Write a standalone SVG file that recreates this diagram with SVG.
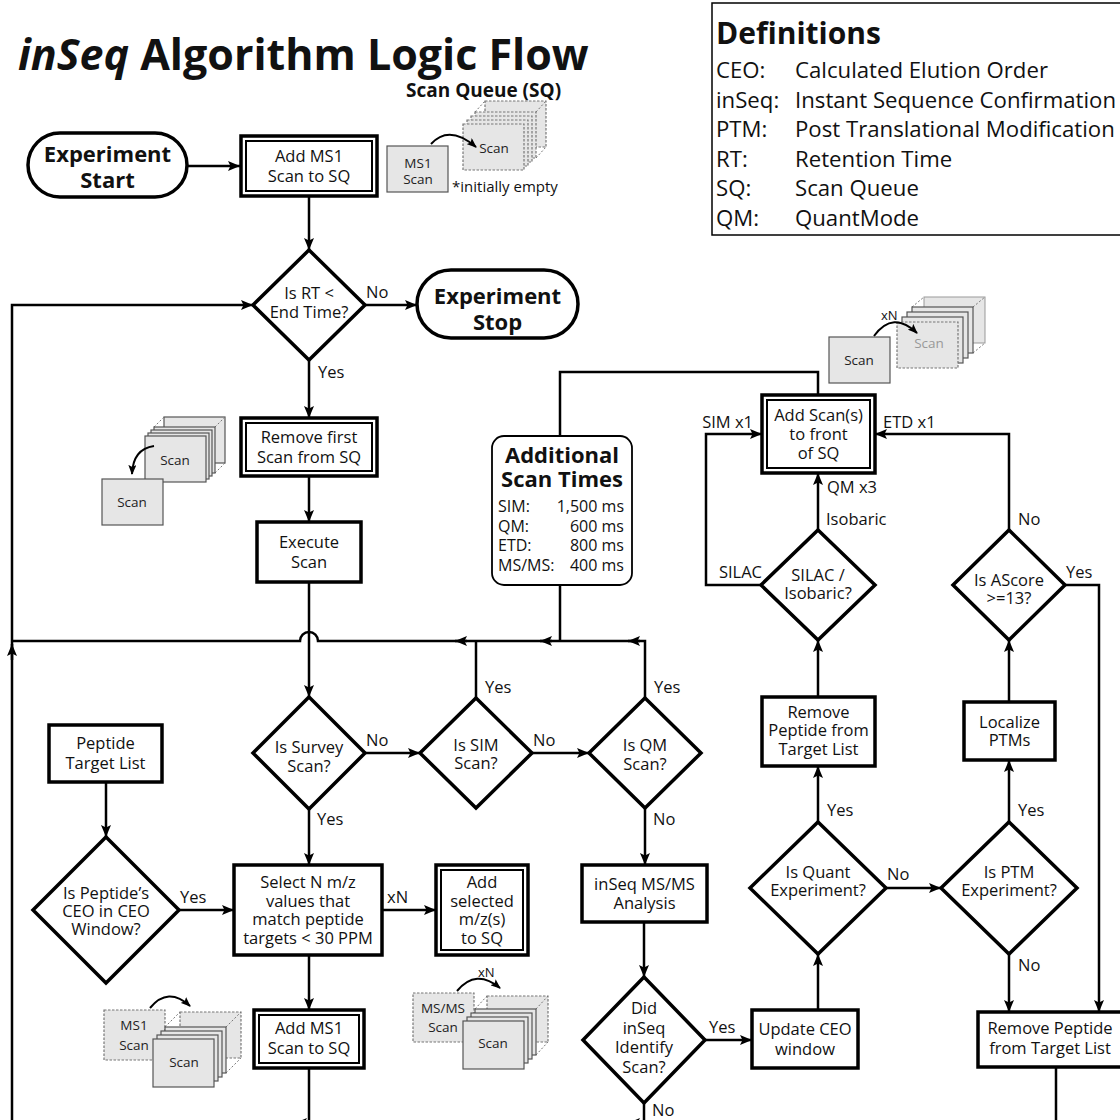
<svg xmlns="http://www.w3.org/2000/svg" width="1120" height="1120" viewBox="0 0 1120 1120">
<defs>
<style>
text{font-family:"Open Sans","Liberation Sans",sans-serif;fill:#111}
.t{font-size:16.5px;text-anchor:middle}
.l{font-size:16.5px}
.e{font-size:16.5px;text-anchor:end}
.bt{font-size:22px;font-weight:700;text-anchor:middle}
.node{fill:#fff;stroke:#000;stroke-width:3.5}
.inner{fill:none;stroke:#000;stroke-width:2}
.c{fill:none;stroke:#000;stroke-width:2.5}
.ic{fill:#e6e6e6;stroke:#555;stroke-width:1.2}
.icd{fill:#e6e6e6;stroke:#777;stroke-width:1.2;stroke-dasharray:2.5 1.5}
.dot{stroke:#777;stroke-width:1;stroke-dasharray:2 2;fill:none}
.it{font-size:13.5px;text-anchor:middle;fill:#222}
.arc{fill:none;stroke:#000;stroke-width:2}
.def{font-size:22.2px}
.st{font-size:16px}
.se{font-size:16px;text-anchor:end}
</style>
<marker id="ah" viewBox="0 0 12 10" refX="12" refY="5" markerWidth="12" markerHeight="10" markerUnits="userSpaceOnUse" orient="auto"><path d="M0,0 L12,5 L0,10 L2.5,5 z" fill="#000"/></marker>
<marker id="sa" viewBox="0 0 10 8" refX="9" refY="4" markerWidth="10" markerHeight="8" markerUnits="userSpaceOnUse" orient="auto"><path d="M0,0 L10,4 L0,8 L2,4 z" fill="#000"/></marker>
</defs>
<rect width="1120" height="1120" fill="#fff"/>

<text x="18" y="70" font-size="43" font-weight="700"><tspan font-style="italic">inSeq</tspan> Algorithm Logic Flow</text>

<g id="definitions">
<rect x="712" y="3" width="420" height="232" fill="#fff" stroke="#000" stroke-width="1.5"/>
<text x="716" y="44" font-size="30" font-weight="700">Definitions</text>
<text class="def" x="716" y="78">CEO:</text><text class="def" x="795" y="78">Calculated Elution Order</text>
<text class="def" x="716" y="107.5">inSeq:</text><text class="def" x="795" y="107.5">Instant Sequence Confirmation</text>
<text class="def" x="716" y="137">PTM:</text><text class="def" x="795" y="137">Post Translational Modification</text>
<text class="def" x="716" y="166.5">RT:</text><text class="def" x="795" y="166.5">Retention Time</text>
<text class="def" x="716" y="196">SQ:</text><text class="def" x="795" y="196">Scan Queue</text>
<text class="def" x="716" y="225.5">QM:</text><text class="def" x="795" y="225.5">QuantMode</text>
</g>

<g id="connectors">
<path class="c" d="M187,166 H240" marker-end="url(#ah)"/>
<path class="c" d="M309,196 V250" marker-end="url(#ah)"/>
<path class="c" d="M365,305 H417" marker-end="url(#ah)"/>
<path class="c" d="M309,360 V418" marker-end="url(#ah)"/>
<path class="c" d="M309,476 V522" marker-end="url(#ah)"/>
<path class="c" d="M309,582 V697" marker-end="url(#ah)"/>
<path class="c" d="M645,698 V641 H318 A9,9 0 0 0 300,641 H12"/>
<path class="c" d="M640,641 H628" marker-end="url(#ah)"/>
<path class="c" d="M552,641 H540" marker-end="url(#ah)"/>
<path class="c" d="M467,641 H455" marker-end="url(#ah)"/>
<path class="c" d="M12,1123 V305 H253" marker-end="url(#ah)"/>
<path class="c" d="M12,660 V644" marker-end="url(#ah)"/>
<path class="c" d="M476,698 V641"/>
<path class="c" d="M818,395 V372 H560 V436 M560,585 V641"/>
<path class="c" d="M364,753 H420" marker-end="url(#ah)"/>
<path class="c" d="M532,753 H589" marker-end="url(#ah)"/>
<path class="c" d="M309,809 V865" marker-end="url(#ah)"/>
<path class="c" d="M645,808 V865" marker-end="url(#ah)"/>
<path class="c" d="M106,782 V837" marker-end="url(#ah)"/>
<path class="c" d="M179,910 H234" marker-end="url(#ah)"/>
<path class="c" d="M382,910 H436" marker-end="url(#ah)"/>
<path class="c" d="M309,955 V1010" marker-end="url(#ah)"/>
<path class="c" d="M309,1068 V1123"/>
<path class="c" d="M644,922 V977" marker-end="url(#ah)"/>
<path class="c" d="M705,1040 H752" marker-end="url(#ah)"/>
<path class="c" d="M644,1103 V1123"/>
<path class="c" d="M818,1010 V954" marker-end="url(#ah)"/>
<path class="c" d="M818,822 V766" marker-end="url(#ah)"/>
<path class="c" d="M818,697 V640" marker-end="url(#ah)"/>
<path class="c" d="M818,530 V473" marker-end="url(#ah)"/>
<path class="c" d="M761,585 H706 V434 H762" marker-end="url(#ah)"/>
<path class="c" d="M886,888 H941" marker-end="url(#ah)"/>
<path class="c" d="M1009,822 V760" marker-end="url(#ah)"/>
<path class="c" d="M1009,702 V640" marker-end="url(#ah)"/>
<path class="c" d="M1009,530 V434 H875" marker-end="url(#ah)"/>
<path class="c" d="M1065,585 H1099 V1012" marker-end="url(#ah)"/>
<path class="c" d="M1009,954 V1012" marker-end="url(#ah)"/>
<path class="c" d="M1056,1067 V1123 H12"/>
<path class="c" d="M307,1123 H295" marker-end="url(#ah)"/>
<path class="c" d="M640,1123 H628" marker-end="url(#ah)"/>
</g>

<g id="labels">
<text class="l" x="366" y="298">No</text>
<text class="l" x="318" y="378">Yes</text>
<text class="l" x="366" y="746">No</text>
<text class="l" x="317" y="825">Yes</text>
<text class="l" x="485" y="693">Yes</text>
<text class="l" x="533" y="746">No</text>
<text class="l" x="654" y="693">Yes</text>
<text class="l" x="653" y="825">No</text>
<text class="l" x="180" y="903">Yes</text>
<text class="l" x="387" y="903">xN</text>
<text class="l" x="709" y="1033">Yes</text>
<text class="l" x="652" y="1116">No</text>
<text class="l" x="827" y="816">Yes</text>
<text class="l" x="887" y="880">No</text>
<text class="l" x="1018" y="816">Yes</text>
<text class="l" x="1018" y="971">No</text>
<text class="e" x="753" y="428">SIM x1</text>
<text class="l" x="883" y="428">ETD x1</text>
<text class="l" x="827" y="493">QM x3</text>
<text class="l" x="826" y="525">Isobaric</text>
<text class="e" x="762" y="578">SILAC</text>
<text class="l" x="1018" y="525">No</text>
<text class="l" x="1066" y="578">Yes</text>
</g>

<g id="start">
<rect class="node" x="28" y="133" width="159" height="64" rx="32"/>
<text class="bt" x="107.5" y="162">Experiment</text>
<text class="bt" x="107.5" y="188">Start</text>
</g>
<g id="add-ms1-top">
<rect class="node" x="241" y="136" width="136" height="60"/>
<rect class="inner" x="246" y="141" width="126" height="50"/>
<text class="t" x="309" y="162">Add MS1</text>
<text class="t" x="309" y="182">Scan to SQ</text>
</g>
<g id="rt-check">
<polygon class="node" points="309,250 365,305 309,360 253,305"/>
<text class="t" x="309" y="299">Is RT &lt;</text>
<text class="t" x="309" y="318">End Time?</text>
</g>
<g id="stop">
<rect class="node" x="417" y="270" width="161" height="68" rx="34"/>
<text class="bt" x="497.5" y="304">Experiment</text>
<text class="bt" x="497.5" y="330">Stop</text>
</g>
<g id="remove-first">
<rect class="node" x="241" y="418" width="136" height="58"/>
<rect class="inner" x="246" y="423" width="126" height="48"/>
<text class="t" x="309" y="443">Remove first</text>
<text class="t" x="309" y="463">Scan from SQ</text>
</g>
<g id="execute">
<rect class="node" x="257" y="522" width="104" height="60"/>
<text class="t" x="309" y="548">Execute</text>
<text class="t" x="309" y="568">Scan</text>
</g>
<g id="scan-times">
<rect x="492" y="436" width="140" height="149" rx="12" fill="#fff" stroke="#000" stroke-width="1.8"/>
<text class="bt" x="562" y="463">Additional</text>
<text class="bt" x="562" y="487">Scan Times</text>
<text class="st" x="498" y="512">SIM:</text><text class="se" x="624" y="512">1,500 ms</text>
<text class="st" x="498" y="532">QM:</text><text class="se" x="624" y="532">600 ms</text>
<text class="st" x="498" y="551">ETD:</text><text class="se" x="624" y="551">800 ms</text>
<text class="st" x="498" y="571">MS/MS:</text><text class="se" x="624" y="571">400 ms</text>
</g>
<g id="survey">
<polygon class="node" points="309,697 365,753 309,809 253,753"/>
<text class="t" x="309" y="753">Is Survey</text>
<text class="t" x="309" y="772">Scan?</text>
</g>
<g id="sim">
<polygon class="node" points="476,698 532,753 476,808 420,753"/>
<text class="t" x="476" y="751">Is SIM</text>
<text class="t" x="476" y="769">Scan?</text>
</g>
<g id="qm">
<polygon class="node" points="645,698 701,753 645,808 589,753"/>
<text class="t" x="645" y="751">Is QM</text>
<text class="t" x="645" y="770">Scan?</text>
</g>
<g id="peptide-list">
<rect class="node" x="49" y="725" width="113" height="57"/>
<text class="t" x="105.5" y="749">Peptide</text>
<text class="t" x="105.5" y="769">Target List</text>
</g>
<g id="ceo-check">
<polygon class="node" points="106,837 179,910 106,983 33,910"/>
<text class="t" x="106" y="899">Is Peptide’s</text>
<text class="t" x="106" y="917">CEO in CEO</text>
<text class="t" x="106" y="935">Window?</text>
</g>
<g id="select">
<rect class="node" x="234" y="865" width="148" height="90"/>
<text class="t" x="308" y="888">Select N m/z</text>
<text class="t" x="308" y="907">values that</text>
<text class="t" x="308" y="925">match peptide</text>
<text class="t" x="308" y="944">targets &lt; 30 PPM</text>
</g>
<g id="add-selected">
<rect class="node" x="436" y="865" width="92" height="90"/>
<rect class="inner" x="441" y="870" width="82" height="80"/>
<text class="t" x="482" y="888">Add</text>
<text class="t" x="482" y="907">selected</text>
<text class="t" x="482" y="925">m/z(s)</text>
<text class="t" x="482" y="944">to SQ</text>
</g>
<g id="inseq-analysis">
<rect class="node" x="582" y="865" width="125" height="57"/>
<text class="t" x="644.5" y="890">inSeq MS/MS</text>
<text class="t" x="644.5" y="909">Analysis</text>
</g>
<g id="did-identify">
<polygon class="node" points="644,977 705,1040 644,1103 583,1040"/>
<text class="t" x="644" y="1014">Did</text>
<text class="t" x="644" y="1034">inSeq</text>
<text class="t" x="644" y="1053">Identify</text>
<text class="t" x="644" y="1073">Scan?</text>
</g>
<g id="add-ms1-bottom">
<rect class="node" x="254" y="1010" width="110" height="58"/>
<rect class="inner" x="259" y="1015" width="100" height="48"/>
<text class="t" x="309" y="1034">Add MS1</text>
<text class="t" x="309" y="1054">Scan to SQ</text>
</g>
<g id="update-ceo">
<rect class="node" x="752" y="1010" width="106" height="58"/>
<text class="t" x="805" y="1035">Update CEO</text>
<text class="t" x="805" y="1055">window</text>
</g>
<g id="quant">
<polygon class="node" points="818,822 886,888 818,954 750,888"/>
<text class="t" x="818" y="878">Is Quant</text>
<text class="t" x="818" y="896">Experiment?</text>
</g>
<g id="ptm">
<polygon class="node" points="1009,822 1077,888 1009,954 941,888"/>
<text class="t" x="1009" y="878">Is PTM</text>
<text class="t" x="1009" y="896">Experiment?</text>
</g>
<g id="remove-peptide-mid">
<rect class="node" x="762" y="697" width="113" height="69"/>
<text class="t" x="818.5" y="718">Remove</text>
<text class="t" x="818.5" y="736">Peptide from</text>
<text class="t" x="818.5" y="755">Target List</text>
</g>
<g id="localize">
<rect class="node" x="964" y="702" width="91" height="58"/>
<text class="t" x="1009.5" y="728">Localize</text>
<text class="t" x="1009.5" y="746">PTMs</text>
</g>
<g id="silac">
<polygon class="node" points="818,530 875,585 818,640 761,585"/>
<text class="t" x="818" y="581">SILAC /</text>
<text class="t" x="818" y="599">Isobaric?</text>
</g>
<g id="ascore">
<polygon class="node" points="1009,530 1065,585 1009,640 953,585"/>
<text class="t" x="1009" y="586">Is AScore</text>
<text class="t" x="1009" y="604">&gt;=13?</text>
</g>
<g id="add-scans">
<rect class="node" x="762" y="395" width="113" height="78"/>
<rect class="inner" x="767" y="400" width="103" height="68"/>
<text class="t" x="818.5" y="421">Add Scan(s)</text>
<text class="t" x="818.5" y="440">to front</text>
<text class="t" x="818.5" y="459">of SQ</text>
</g>
<g id="remove-peptide-right">
<rect class="node" x="978" y="1012" width="150" height="55"/>
<text class="t" x="1050" y="1034">Remove Peptide</text>
<text class="t" x="1050" y="1054">from Target List</text>
</g>

<g id="icon-sq">
<text x="406" y="97" font-size="19" font-weight="700">Scan Queue (SQ)</text>
<rect class="ic" x="387" y="146" width="61" height="46"/>
<text class="it" x="418" y="168">MS1</text>
<text class="it" x="418" y="184">Scan</text>
<rect class="icd" x="485" y="101" width="61" height="46"/>
<path class="dot" d="M475,112 L485,101 M536,112 L546,101 M536,158 L546,147"/>
<rect class="icd" x="475" y="112" width="61" height="46"/>
<rect class="icd" x="471" y="116" width="61" height="46"/>
<rect class="icd" x="467" y="120" width="61" height="46"/>
<rect class="icd" x="463" y="124" width="61" height="46"/>
<text class="it" x="494" y="153">Scan</text>
<path class="arc" d="M431,144 Q449,124 476,147" marker-end="url(#sa)"/>
<text x="452" y="192" font-size="15">*initially empty</text>
</g>
<g id="icon-remove">
<rect class="ic" x="164" y="417" width="61" height="46"/>
<path class="dot" d="M154,427 L164,417 M215,427 L225,417 M215,473 L225,463"/>
<rect class="ic" x="154" y="427" width="61" height="46"/>
<rect class="ic" x="151" y="430" width="61" height="46"/>
<rect class="ic" x="148" y="433" width="61" height="46"/>
<rect class="ic" x="145" y="436" width="61" height="46"/>
<text class="it" x="175" y="465">Scan</text>
<rect class="ic" x="102" y="479" width="61" height="46"/>
<text class="it" x="132" y="507">Scan</text>
<path class="arc" d="M154,446 Q133,449 132,474" marker-end="url(#sa)"/>
</g>
<g id="icon-addscan">
<rect class="ic" x="829" y="337" width="61" height="46"/>
<text class="it" x="859" y="365">Scan</text>
<rect x="924" y="297" width="61" height="46" fill="#e6e6e6" stroke="#999" stroke-width="1"/>
<path class="dot" d="M912,307 L924,297 M973,307 L985,297 M973,353 L985,343"/>
<rect class="ic" x="912" y="307" width="61" height="46"/>
<rect class="ic" x="907" y="312" width="61" height="46"/>
<rect class="ic" x="902" y="317" width="61" height="46"/>
<rect class="icd" x="897" y="322" width="61" height="46" fill="#ececec"/>
<text class="it" x="929" y="348" style="fill:#999">Scan</text>
<text x="881" y="320" font-size="13">xN</text>
<path class="arc" d="M874,336 Q893,310 917,333" marker-end="url(#sa)"/>
</g>
<g id="icon-ms1">
<rect class="icd" x="104" y="1010" width="61" height="50"/>
<text class="it" x="134" y="1030">MS1</text>
<text class="it" x="134" y="1050">Scan</text>
<rect class="icd" x="180" y="1012" width="61" height="46"/>
<path class="dot" d="M165,1027 L180,1012 M226,1027 L241,1012 M226,1073 L241,1058"/>
<rect class="ic" x="165" y="1027" width="61" height="46"/>
<rect class="ic" x="161" y="1031" width="61" height="46"/>
<rect class="ic" x="157" y="1035" width="61" height="46"/>
<rect class="ic" x="153" y="1039" width="61" height="48"/>
<text class="it" x="184" y="1067">Scan</text>
<path class="arc" d="M150,1008 Q168,986 190,1006" marker-end="url(#sa)"/>
</g>
<g id="icon-msms">
<rect class="icd" x="413" y="993" width="61" height="49"/>
<text class="it" x="443" y="1013">MS/MS</text>
<text class="it" x="443" y="1032">Scan</text>
<rect class="icd" x="487" y="996" width="61" height="46"/>
<path class="dot" d="M475,1009 L487,996 M536,1009 L548,996 M536,1055 L548,1042"/>
<rect class="ic" x="475" y="1009" width="61" height="46"/>
<rect class="ic" x="471" y="1013" width="61" height="46"/>
<rect class="ic" x="467" y="1017" width="61" height="46"/>
<rect class="ic" x="463" y="1021" width="61" height="48"/>
<text class="it" x="493" y="1048">Scan</text>
<text x="478" y="977" font-size="13">xN</text>
<path class="arc" d="M457,991 Q476,968 500,988" marker-end="url(#sa)"/>
</g>
</svg>
